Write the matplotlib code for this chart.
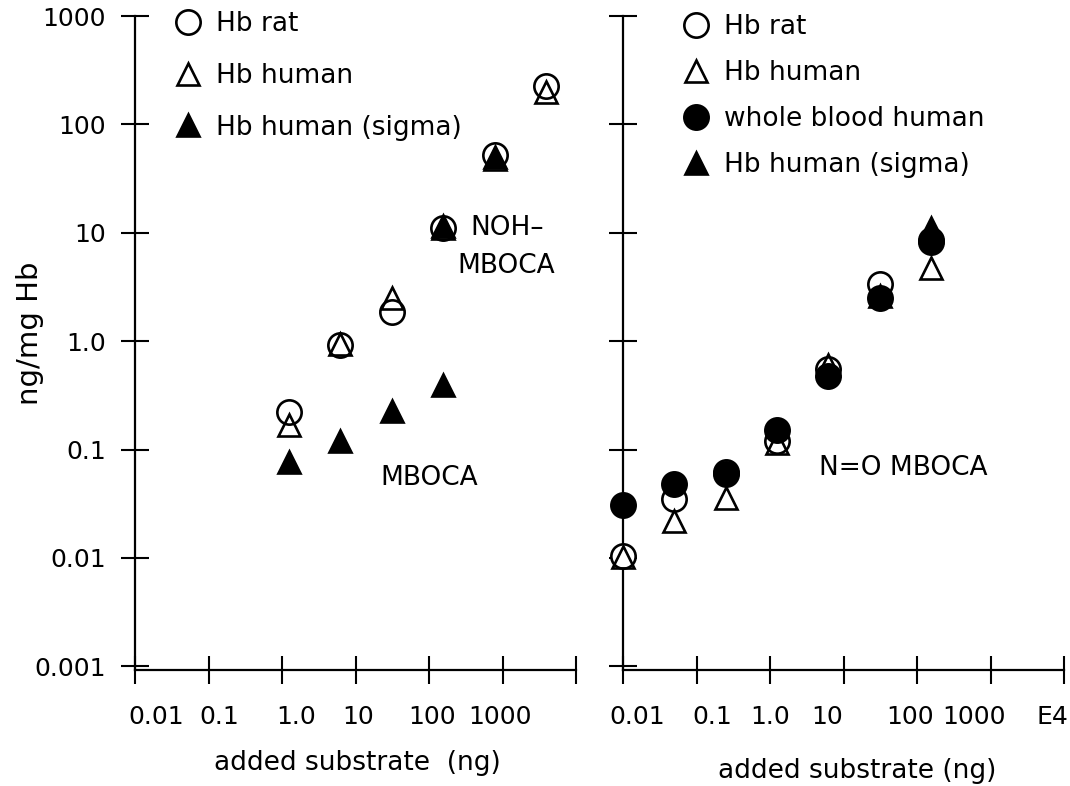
import numpy as np
import matplotlib
matplotlib.use("Agg")
import matplotlib.pyplot as plt
from matplotlib.lines import Line2D

plt.rcParams['font.family'] = ['DejaVu Sans']

# ---------------- data ----------------
# left panel (NOH-MBOCA upper series, MBOCA lower series)
left_x = [1.25, 6.25, 31.25, 156, 781, 3906]
left_hb_rat = [0.22, 0.93, 1.85, 11, 52, 225]
left_hb_human = [0.17, 0.95, 2.5, 11, 48, 200]
left_sigma_mboca_x = [1.25, 6.25, 31.25, 156]
left_sigma_mboca = [0.076, 0.12, 0.225, 0.39]
left_sigma_noh_x = [156, 781]
left_sigma_noh = [11.5, 50]

# right panel (N=O MBOCA)
right_x = [0.01, 0.05, 0.25, 1.25, 6.25, 31.25, 156]
right_hb_rat = [0.0105, 0.035, 0.062, 0.12, 0.55, 3.4, 8.5]
right_hb_human = [0.0103, 0.022, 0.036, 0.115, 0.6, 2.6, 4.7]
right_whole_blood = [0.0305, 0.048, 0.060, 0.150, 0.48, 2.5, 8.2]
right_sigma_x = [156]
right_sigma = [11]

y_ticks = [1000, 100, 10, 1, 0.1, 0.01, 0.001]
y_ticklabels = ['1000', '100', '10', '1.0', '0.1', '0.01', '0.001']
x_ticks = [0.01, 0.1, 1, 10, 100, 1000, 10000]
left_xlabels = ['0.01', '0.1', '1.0', '10', '100', '1000']
right_xlabels = ['0.01', '0.1', '1.0', '10', '100', '1000', 'E4']

# ---------------- figure ----------------
W, H = 1070, 786
fig = plt.figure(figsize=(W / 100, H / 100), dpi=100)
y0 = (H - 670) / H
hh = (670 - 16) / H
ax1 = fig.add_axes([135 / W, y0, 441 / W, hh])
ax2 = fig.add_axes([623 / W, y0, 441 / W, hh])

FS = 19
TFS = 18
MS = 17.5
MEW = 1.9

for ax in (ax1, ax2):
    ax.set_xscale('log')
    ax.set_yscale('log')
    ax.set_xlim(0.01, 10000)
    ax.set_ylim(0.000925, 1000)
    for s in ('top', 'right'):
        ax.spines[s].set_visible(False)
    for s in ('left', 'bottom'):
        ax.spines[s].set_linewidth(1.6)
    ax.set_yticks(y_ticks)
    ax.yaxis.set_minor_locator(matplotlib.ticker.NullLocator())
    ax.set_xticks(x_ticks)
    ax.set_xticklabels([''] * len(x_ticks))
    ax.tick_params(axis='both', which='major', direction='inout', length=20,
                   width=1.5, labelsize=TFS)

ax1.set_yticklabels(y_ticklabels)
ax1.tick_params(axis='y', pad=11)
ax2.set_yticklabels([''] * len(y_ticks))

# x tick labels via minor ticks (offset like in the original)
left_off = [0.29, 0.14, 0.19, 0.03, 0.04, -0.03]
right_off = [0.19, 0.22, 0.004, -0.22, -0.10, -0.22, -0.16]
ax1.set_xticks([x_ticks[i] * 10 ** left_off[i] for i in range(len(left_xlabels))], minor=True)
ax1.set_xticklabels(left_xlabels, minor=True)
ax2.set_xticks([x_ticks[i] * 10 ** right_off[i] for i in range(len(right_xlabels))], minor=True)
ax2.set_xticklabels(right_xlabels, minor=True)
for ax in (ax1, ax2):
    ax.tick_params(axis='x', which='minor', length=0, labelsize=TFS, pad=25)

open_c = dict(marker='o', ms=MS, mfc='white', mec='black', mew=MEW, ls='none', clip_on=False)
open_t = dict(marker='^', ms=MS - 1, mfc='none', mec='black', mew=MEW, ls='none', clip_on=False)
fill_c = dict(marker='o', ms=MS, mfc='black', mec='black', mew=MEW, ls='none', clip_on=False)
fill_t = dict(marker='^', ms=MS - 1, mfc='black', mec='black', mew=MEW, ls='none', clip_on=False)

# left panel
ax1.plot(left_x, left_hb_rat, **open_c, zorder=3)
ax1.plot(left_x, left_hb_human, **open_t, zorder=4)
ax1.plot(left_sigma_mboca_x, left_sigma_mboca, **fill_t, zorder=5)
ax1.plot(left_sigma_noh_x, left_sigma_noh, **fill_t, zorder=5)

# right panel
ax2.plot(right_x, right_hb_rat, **open_c, zorder=3)
ax2.plot(right_x, right_hb_human, **open_t, zorder=4)
ax2.plot(right_x, right_whole_blood, **fill_c, zorder=5)
ax2.plot(right_sigma_x, right_sigma, **fill_t, zorder=6)

# legends
h_rat = Line2D([], [], **open_c)
h_hum = Line2D([], [], **open_t)
h_sig = Line2D([], [], **fill_t)
h_wb = Line2D([], [], **fill_c)
leg1 = ax1.legend([h_rat, h_hum, h_sig], ['Hb rat', 'Hb human', 'Hb human (sigma)'],
                  loc='upper left', bbox_to_anchor=(175 / W, 1 - 11 / H),
                  bbox_transform=fig.transFigure, frameon=False, fontsize=FS,
                  handlelength=1.0, handletextpad=0.54, labelspacing=0.98,
                  borderpad=0, borderaxespad=0)
leg2 = ax2.legend([h_rat, h_hum, h_wb, h_sig],
                  ['Hb rat', 'Hb human', 'whole blood human', 'Hb human (sigma)'],
                  loc='upper left', bbox_to_anchor=(683 / W, 1 - 14 / H),
                  bbox_transform=fig.transFigure, frameon=False, fontsize=FS,
                  handlelength=1.0, handletextpad=0.54, labelspacing=0.76,
                  borderpad=0, borderaxespad=0)

# annotations
ax1.text(470 / W, 1 - 228 / H, 'NOH\u2013', transform=fig.transFigure, fontsize=FS,
         ha='left', va='center')
ax1.text(506 / W, 1 - 266 / H, 'MBOCA', transform=fig.transFigure, fontsize=FS,
         ha='center', va='center')
ax1.text(429 / W, 1 - 478 / H, 'MBOCA', transform=fig.transFigure, fontsize=FS,
         ha='center', va='center')
ax2.text(903 / W, 1 - 468 / H, 'N=O MBOCA', transform=fig.transFigure, fontsize=FS,
         ha='center', va='center')

# axis labels
fig.text(30 / W, 1 - 333 / H, 'ng/mg Hb', rotation=90, fontsize=21,
         ha='center', va='center')
fig.text(357 / W, 1 - 763 / H, 'added substrate  (ng)', fontsize=FS,
         ha='center', va='center')
fig.text(857 / W, 1 - 771 / H, 'added substrate (ng)', fontsize=FS,
         ha='center', va='center')

fig.savefig('out.png', dpi=100)
